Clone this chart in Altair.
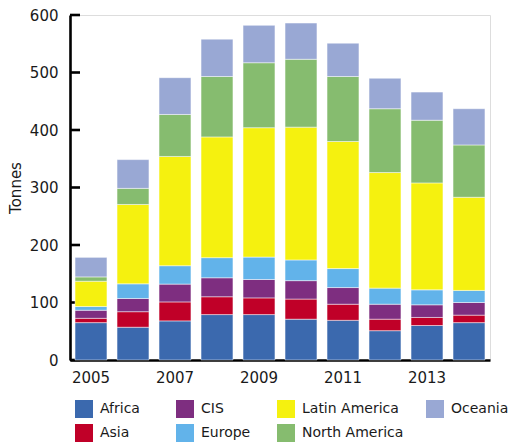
import altair as alt
import pandas as pd

years = [2005, 2006, 2007, 2008, 2009, 2010, 2011, 2012, 2013, 2014]
regions = ["Africa", "Asia", "CIS", "Europe", "Latin America", "North America", "Oceania"]
africa = [65, 57, 68, 79, 79, 71, 69, 51, 60, 65]
asia = [7.5, 27, 33, 31, 29, 35, 28, 20, 14, 13]
cis = [14, 23, 31, 33, 32, 32, 29, 26, 22, 22]
europe = [6.5, 25.5, 32, 35, 39, 36, 33, 28, 26, 21]
latin_america = [44, 138, 190, 210, 225, 231, 221, 201, 186, 162]
north_america = [7.5, 28, 73, 105, 113, 118, 113, 111, 109, 91]
oceania = [34, 50, 64, 65, 65, 63, 58, 53, 49, 63]
colors = ["#3B69AE", "#C00028", "#7E2E80", "#62B3EA", "#F5F10F", "#86BC6F", "#99A8D4"]
y_ticks = [0, 100, 200, 300, 400, 500, 600]
x_labels = [2005, 2007, 2009, 2011, 2013]

series = [africa, asia, cis, europe, latin_america, north_america, oceania]
rows = []
for i, (name, vals) in enumerate(zip(regions, series)):
    for y, v in zip(years, vals):
        rows.append({"Year": y, "Region": name, "Tonnes": v, "k": i})
df = pd.DataFrame(rows)

# legend order (row-major with 4 columns gives the column-major look)
legend_order = ["Africa", "CIS", "Latin America", "Oceania", "Asia", "Europe", "North America"]
legend_colors = [colors[regions.index(r)] for r in legend_order]

FONT = "DejaVu Sans"
NB = "\u00a0"
ZW = "\u200b"
label_expr = ("datum.label == 'Africa' ? 'Africa" + NB * 3 + ZW + "' : "
              "datum.label == 'Europe' ? 'Europe" + NB + ZW + "' : datum.label")

bars = alt.Chart(df).mark_bar(stroke="#ffffff", strokeWidth=0.8, strokeOpacity=0.6).encode(
    x=alt.X("Year:O", title=None,
            scale=alt.Scale(paddingInner=0.24, paddingOuter=0.12),
            axis=alt.Axis(values=x_labels, labelAngle=0, ticks=False, domainColor="#000000",
                          domainWidth=2.6, labelFontSize=15, labelPadding=10,
                          labelColor="#1a1a1a", labelFont=FONT)),
    y=alt.Y("Tonnes:Q", title="Tonnes", stack="zero",
            scale=alt.Scale(domain=[0, 600], nice=False),
            axis=alt.Axis(values=y_ticks, grid=False, ticks=False, domainColor="#000000",
                          domainWidth=2.6, labelFontSize=15, labelPadding=12,
                          labelColor="#1a1a1a", labelFont=FONT, titleFont=FONT,
                          titleFontSize=15, titleFontWeight="normal", titlePadding=6,
                          titleColor="#1a1a1a")),
    color=alt.Color("Region:N",
                    scale=alt.Scale(domain=legend_order, range=legend_colors),
                    legend=alt.Legend(title=None, orient="none", legendX=5, legendY=40 + 345,
                                      direction="horizontal", columns=4, symbolType="square",
                                      symbolSize=324, symbolStrokeWidth=0, labelFontSize=14,
                                      labelFont=FONT, labelColor="#1a1a1a", labelOffset=7,
                                      columnPadding=22, rowPadding=6, labelExpr=label_expr)),
    order=alt.Order("k:Q", sort="ascending"),
)

tick_df = pd.DataFrame({"v": y_ticks})
ticks = alt.Chart(tick_df).mark_rule(color="#000000", strokeWidth=2.6).encode(
    y=alt.Y("v:Q"),
    x=alt.value(0),
    x2=alt.value(10),
)

chart = alt.layer(ticks, bars).properties(
    width=420, height=345, padding=0,
).configure_view(stroke=None).configure(font=FONT)

chart.save("out.html", embed_options={"renderer": "svg", "actions": False})
